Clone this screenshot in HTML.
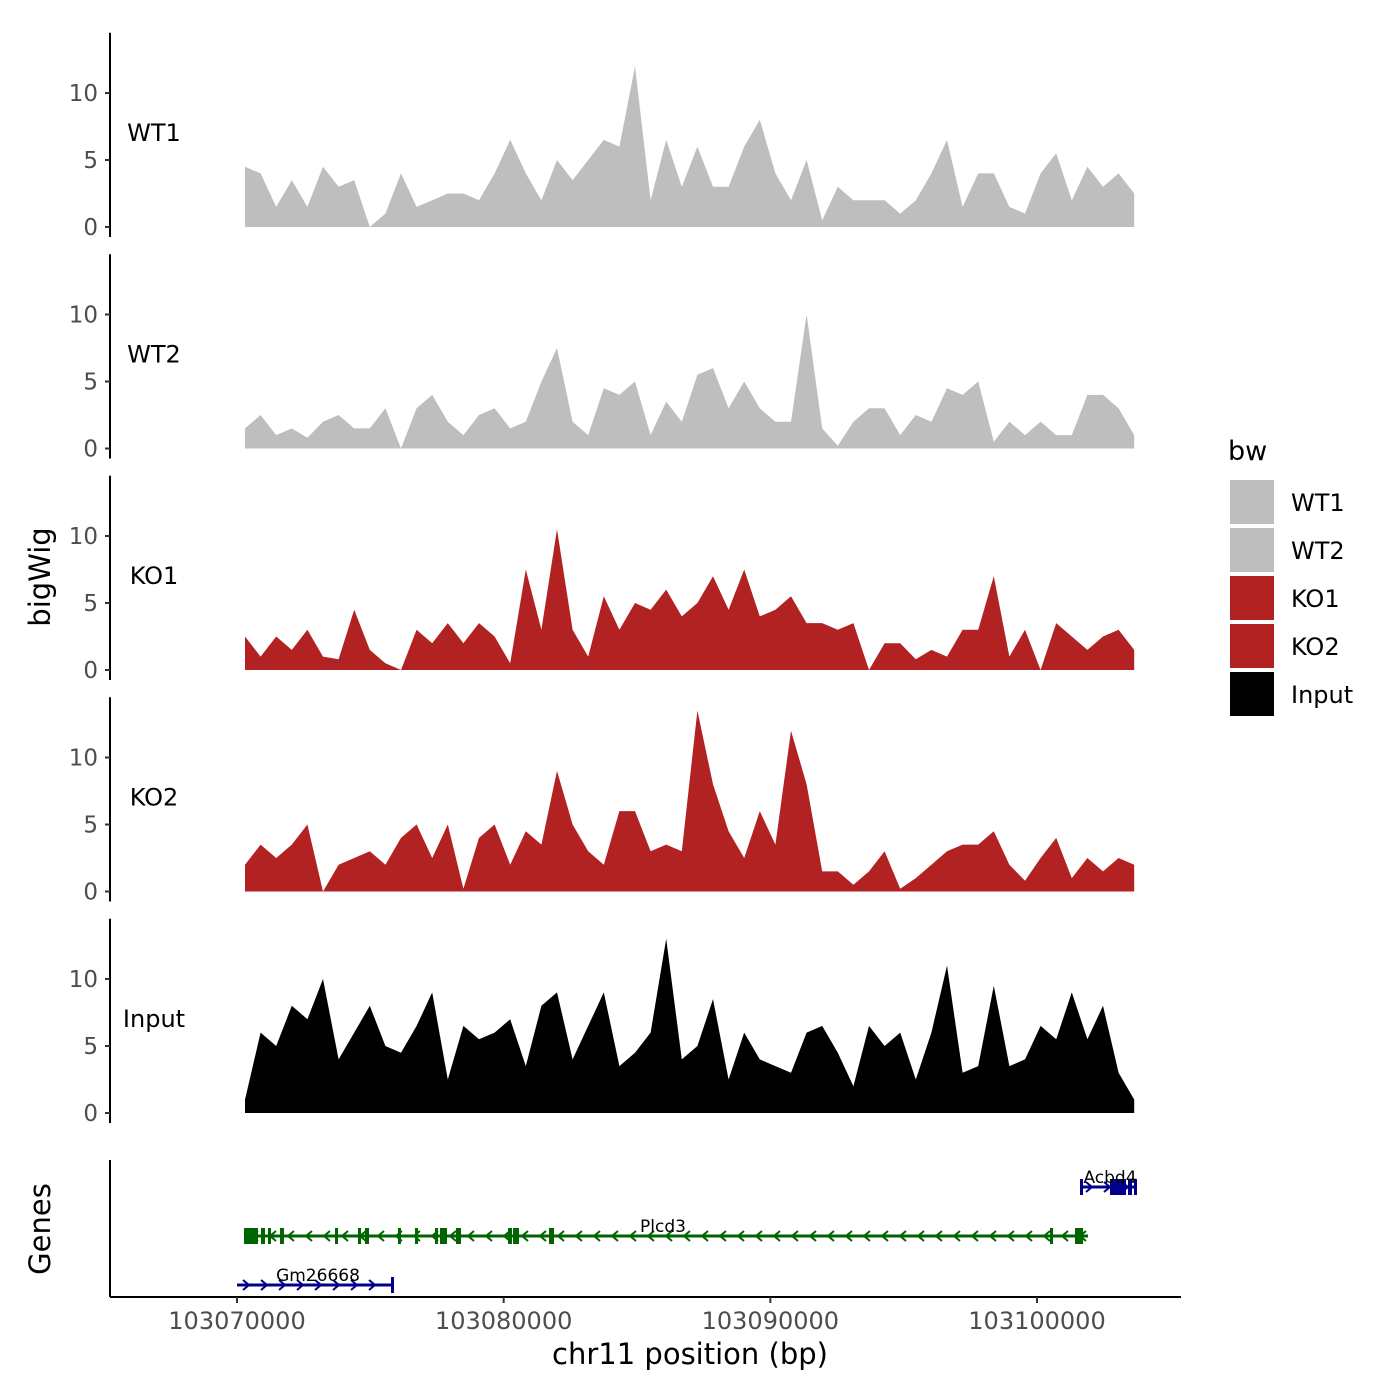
<!DOCTYPE html>
<html><head><meta charset="utf-8"><style>
html,body{margin:0;padding:0;background:#fff}
svg{display:block;font-family:"DejaVu Sans","Liberation Sans",sans-serif}
</style></head><body>
<svg id="chart" width="1400" height="1400" viewBox="0 0 1400 1400" xmlns="http://www.w3.org/2000/svg">
<g id="tracks"></g>
<g id="genes"></g>
<g id="xaxis"></g>
<text x="42" y="577" transform="rotate(-90 42 577)" text-anchor="middle" dominant-baseline="middle" font-size="29">bigWig</text>
<text x="42" y="1229" transform="rotate(-90 42 1229)" text-anchor="middle" dominant-baseline="middle" font-size="29">Genes</text>
<text x="690" y="1364" text-anchor="middle" font-size="29">chr11 position (bp)</text>
<g id="legend"></g>
</svg>
<script>
const trackNames = ["WT1","WT2","KO1","KO2","Input"];
const trackColors = ["#bebebe","#bebebe","#b22222","#b22222","#000000"];
const startBp = 103070300, stepBp = 585;
const wt1 = [4.5,4,1.5,3.5,1.5,4.5,3,3.5,0,1,4,1.5,2,2.5,2.5,2,4,6.5,4,2,5,3.5,5,6.5,6,12,2,6.5,3,6,3,3,6,8,4,2,5,0.5,3,2,2,2,1,2,4,6.5,1.5,4,4,1.5,1,4,5.5,2,4.5,3,4,2.5];
const wt2 = [1.5,2.5,1,1.5,0.8,2,2.5,1.5,1.5,3,0,3,4,2,1,2.5,3,1.5,2,5,7.5,2,1,4.5,4,5,1,3.5,2,5.5,6,3,5,3,2,2,10,1.5,0.2,2,3,3,1,2.5,2,4.5,4,5,0.5,2,1,2,1,1,4,4,3,1];
const ko1 = [2.5,1,2.5,1.5,3,1,0.8,4.5,1.5,0.5,0,3,2,3.5,2,3.5,2.5,0.5,7.5,3,10.5,3,1,5.5,3,5,4.5,6,4,5,7,4.5,7.5,4,4.5,5.5,3.5,3.5,3,3.5,0,2,2,0.8,1.5,1,3,3,7,1,3,0,3.5,2.5,1.5,2.5,3,1.5];
const ko2 = [2,3.5,2.5,3.5,5,0,2,2.5,3,2,4,5,2.5,5,0.2,4,5,2,4.5,3.5,9,5,3,2,6,6,3,3.5,3,13.5,8,4.5,2.5,6,3.5,12,8,1.5,1.5,0.5,1.5,3,0.2,1,2,3,3.5,3.5,4.5,2,0.8,2.5,4,1,2.5,1.5,2.5,2];
const inputV = [1,6,5,8,7,10,4,6,8,5,4.5,6.5,9,2.5,6.5,5.5,6,7,3.5,8,9,4,6.5,9,3.5,4.5,6,13,4,5,8.5,2.5,6,4,3.5,3,6,6.5,4.5,2,6.5,5,6,2.5,6,11,3,3.5,9.5,3.5,4,6.5,5.5,9,5.5,8,3,1];
const series = [wt1,wt2,ko1,ko2,inputV];
const xTicks = [103070000,103080000,103090000,103100000];
const yTicks = [0,5,10];
const NS="http://www.w3.org/2000/svg";
function xs(bp){return 237+(bp-103070000)/30000*800;}
function ys(v,t){return 227+t*221.5-v*13.4;}
function mk(tag,attrs,parent){const e=document.createElementNS(NS,tag);for(const k in attrs)e.setAttribute(k,attrs[k]);parent.appendChild(e);return e;}
const tg=document.getElementById('tracks');
series.forEach((vals,t)=>{
  const g=mk('g',{},tg);
  
  
  let d='M'+xs(startBp)+','+ys(0,t);
  vals.forEach((v,i)=>{d+=' L'+xs(startBp+i*stepBp).toFixed(1)+','+ys(v,t).toFixed(1);});
  d+=' L'+xs(startBp+(vals.length-1)*stepBp).toFixed(1)+','+ys(0,t)+' Z';
  const p=mk('path',{d:d,fill:trackColors[t]},g);
  
  
  const ax=mk('line',{x1:110,x2:110,y1:ys(14.5,t),y2:ys(-0.75,t),stroke:'#000','stroke-width':2},g);
  
  
  yTicks.forEach(v=>{
    mk('line',{x1:105,x2:110,y1:ys(v,t),y2:ys(v,t),stroke:'#333','stroke-width':2},g);
    const tl=mk('text',{x:98,y:ys(v,t)+8,'text-anchor':'end','font-size':23,fill:'#4d4d4d'},g);
    tl.textContent=v;
    
    
  });
  const lab=mk('text',{x:154,y:ys(6.4,t),'text-anchor':'middle','font-size':24},g);
  lab.textContent=trackNames[t];
  
  
});
const gg=document.getElementById('genes');
mk('line',{x1:110,x2:110,y1:1160,y2:1297,stroke:'#000','stroke-width':2},gg);
function gene(name,x1,x2,y,col,dir,exons,labX){
  const g=mk('g',{},gg);
  
  
  mk('line',{x1:x1,x2:x2,y1:y,y2:y,stroke:col,'stroke-width':3},g);
  for(let x=x1+10;x<x2-4;x+=18){
    const a=dir>0?`M${x-4},${y-5} L${x+2},${y} L${x-4},${y+5}`:`M${x+4},${y-5} L${x-2},${y} L${x+4},${y+5}`;
    mk('path',{d:a,stroke:col,'stroke-width':2,fill:'none'},g);
  }
  exons.forEach(e=>mk('rect',{x:e[0],y:y-8,width:e[1],height:16,fill:col},g));
  const t=mk('text',{x:labX,y:y-4,'text-anchor':'middle','font-size':17},g);
  t.textContent=name;
}
gene('Acbd4',1080,1137,1187,'#00008b',1,[[1080,3],[1110,16],[1128,4],[1134,3]],1110);
gene('Plcd3',244,1088,1236,'#006400',-1,[[244,14],[261,4],[268,3],[280,4],[335,3],[358,3],[365,4],[398,3],[415,3],[435,3],[440,7],[456,5],[508,4],[513,6],[549,5],[1050,3],[1075,8]],663);
gene('Gm26668',237,393,1285,'#00008b',1,[[391,3]],318);
const xg=document.getElementById('xaxis');
mk('line',{x1:110,x2:1181,y1:1297,y2:1297,stroke:'#000','stroke-width':2},xg);
xTicks.forEach(b=>{
  mk('line',{x1:xs(b),x2:xs(b),y1:1297,y2:1303,stroke:'#333','stroke-width':2},xg);
  const t=mk('text',{x:xs(b),y:1329,'text-anchor':'middle','font-size':24,fill:'#4d4d4d'},xg);
  t.textContent=b;
  
  
});
const lg=document.getElementById('legend');
const lt=mk('text',{x:1228,y:460,'font-size':27},lg);
lt.textContent='bw';
trackNames.forEach((n,i)=>{
  const y=480+i*48;
  const r=mk('rect',{x:1230,y:y,width:44,height:44,fill:trackColors[i]},lg);
  
  
  const t=mk('text',{x:1291,y:y+31,'font-size':24},lg);
  t.textContent=n;
  
  
});
</script>
</body></html>
